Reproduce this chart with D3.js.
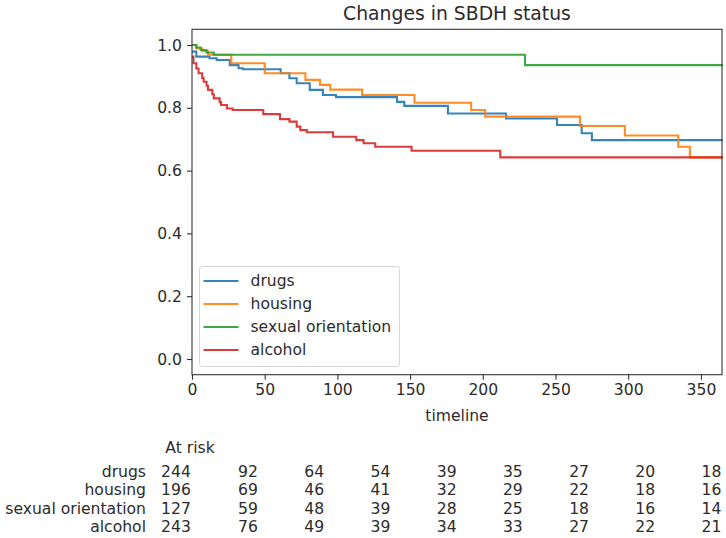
<!DOCTYPE html>
<html>
<head>
<meta charset="utf-8">
<script src="https://cdn.jsdelivr.net/npm/d3@7"></script>
<style>
  body { margin: 0; background: #fff; }
  svg { display: block; font-family: "DejaVu Sans", sans-serif; }
</style>
</head>
<body>
<svg id="chart" width="726" height="538"></svg>
<script>
// ---- data ----
const seriesNames = ["drugs", "housing", "sexual orientation", "alcohol"];
const seriesColors = ["#1f77b4", "#ff7f0e", "#2ca02c", "#d62728"];

const drugsTimes = [0, 3, 12, 17, 26, 32, 35, 61, 67, 72, 81, 90, 99, 141, 146, 176, 216, 251, 268, 275, 365];
const drugsSurv  = [0.979, 0.963, 0.958, 0.952, 0.936, 0.926, 0.923, 0.910, 0.894, 0.878, 0.857, 0.841, 0.834, 0.819, 0.806, 0.782, 0.766, 0.745, 0.719, 0.697, 0.697];

const housingTimes = [0, 3, 7, 11, 27, 50, 78, 88, 95, 117, 153, 192, 201.6, 266.8, 297.7, 334.4, 342.4, 365];
const housingSurv  = [1.0, 0.989, 0.980, 0.969, 0.942, 0.910, 0.889, 0.873, 0.858, 0.841, 0.816, 0.793, 0.772, 0.742, 0.712, 0.676, 0.642, 0.642];

const sexualTimes = [0, 3, 6, 10, 15, 229, 365];
const sexualSurv  = [1.0, 0.992, 0.984, 0.976, 0.969, 0.936, 0.936];

const alcoholTimes = [0, 1, 3, 4.5, 7, 8, 10, 11, 14, 15, 19, 20, 24, 28, 49, 60.5, 67, 72, 74.5, 79, 97, 113, 118, 126, 151, 212, 365];
const alcoholSurv  = [0.963, 0.942, 0.925, 0.910, 0.895, 0.883, 0.870, 0.857, 0.843, 0.830, 0.818, 0.809, 0.798, 0.793, 0.780, 0.764, 0.756, 0.740, 0.729, 0.722, 0.708, 0.697, 0.687, 0.676, 0.663, 0.642, 0.642];

const xTicks = [0, 50, 100, 150, 200, 250, 300, 350];
const yTicks = [0.0, 0.2, 0.4, 0.6, 0.8, 1.0];

const atRiskTimes = [0, 50, 100, 150, 200, 250, 300, 350, 400];
const atRiskDrugs   = [244, 92, 64, 54, 39, 35, 27, 20, 18];
const atRiskHousing = [196, 69, 46, 41, 32, 29, 22, 18, 16];
const atRiskSexual  = [127, 59, 48, 39, 28, 25, 18, 16, 14];
const atRiskAlcohol = [243, 76, 49, 39, 34, 33, 27, 22, 21];

const series = [
  { name: seriesNames[0], color: seriesColors[0], t: drugsTimes, s: drugsSurv },
  { name: seriesNames[1], color: seriesColors[1], t: housingTimes, s: housingSurv },
  { name: seriesNames[2], color: seriesColors[2], t: sexualTimes, s: sexualSurv },
  { name: seriesNames[3], color: seriesColors[3], t: alcoholTimes, s: alcoholSurv }
];
const atRiskRows = [atRiskDrugs, atRiskHousing, atRiskSexual, atRiskAlcohol];

// ---- layout ----
const svg = d3.select("#chart");
const pLeft = 192, pRight = 722, pTop = 29.3, pBottom = 374.7;
const x = d3.scaleLinear().domain([0, 364.5]).range([pLeft, pRight]);
const y = d3.scaleLinear().domain([-0.05, 1.05]).range([pBottom, pTop]);
const textColor = "#2b2b2b";
const fs = 15.6;

// title
svg.append("text").attr("x", (pLeft + pRight) / 2).attr("y", 20)
  .attr("text-anchor", "middle").attr("font-size", 18.8).attr("fill", textColor)
  .text("Changes in SBDH status");

// lines
const line = d3.line().x(d => x(d[0])).y(d => y(d[1])).curve(d3.curveStepAfter);
const plot = svg.append("g");
series.forEach(sr => {
  const pts = sr.t.map((t, i) => [t, sr.s[i]]);
  plot.append("path").attr("d", line(pts))
    .attr("fill", "none").attr("stroke", sr.color).attr("stroke-opacity", 0.9)
    .attr("stroke-width", 2.1).attr("stroke-linejoin", "miter");
});

// axes
const xAxis = d3.axisBottom(x).tickValues(xTicks).tickSize(5).tickPadding(4).tickFormat(d3.format("d"));
const yAxis = d3.axisLeft(y).tickValues(yTicks).tickSize(5).tickPadding(5).tickFormat(d3.format(".1f"));
const gx = svg.append("g").attr("transform", `translate(0,${pBottom})`).call(xAxis);
const gy = svg.append("g").attr("transform", `translate(${pLeft},0)`).call(yAxis);
[gx, gy].forEach(g => {
  g.select(".domain").remove();
  g.selectAll(".tick line").attr("stroke", "#333").attr("stroke-width", 1.1);
  g.selectAll(".tick text").attr("font-size", fs).attr("fill", textColor)
    .attr("font-family", "DejaVu Sans, sans-serif");
});

// frame
svg.append("rect").attr("x", pLeft).attr("y", pTop)
  .attr("width", pRight - pLeft).attr("height", pBottom - pTop)
  .attr("fill", "none").attr("stroke", "#333").attr("stroke-width", 1.1);

// x label
svg.append("text").attr("x", (pLeft + pRight) / 2).attr("y", 421)
  .attr("text-anchor", "middle").attr("font-size", fs).attr("fill", textColor)
  .text("timeline");

// legend
const lg = svg.append("g");
lg.append("rect").attr("x", 199.5).attr("y", 266.5).attr("width", 200).attr("height", 100)
  .attr("rx", 3).attr("fill", "#fff").attr("fill-opacity", 0.8)
  .attr("stroke", "#d6d6d6").attr("stroke-width", 1);
series.forEach((sr, i) => {
  const yy = 281 + i * 23;
  lg.append("line").attr("x1", 203.5).attr("x2", 238.5).attr("y1", yy).attr("y2", yy)
    .attr("stroke", sr.color).attr("stroke-opacity", 0.9).attr("stroke-width", 2.1);
  lg.append("text").attr("x", 250.5).attr("y", yy).attr("dy", "0.35em")
    .attr("font-size", fs).attr("fill", textColor).text(sr.name);
});

// at-risk table
const xr = d3.scaleLinear().domain([50, 400]).range([248, 711.5]);
const tab = svg.append("g").attr("font-size", fs).attr("fill", textColor);
tab.append("text").attr("x", 190).attr("y", 448).attr("dy", "0.35em")
  .attr("text-anchor", "middle").text("At risk");
atRiskRows.forEach((row, r) => {
  const yy = 471.5 + r * 18.5;
  tab.append("text").attr("x", 146).attr("y", yy).attr("dy", "0.35em")
    .attr("text-anchor", "end").text(seriesNames[r]);
  row.forEach((v, i) => {
    const cx = i === 0 ? xr(atRiskTimes[1]) - 72 : xr(atRiskTimes[i]);
    tab.append("text").attr("x", cx).attr("y", yy).attr("dy", "0.35em")
      .attr("text-anchor", "middle").text(v);
  });
});
</script>
</body>
</html>
